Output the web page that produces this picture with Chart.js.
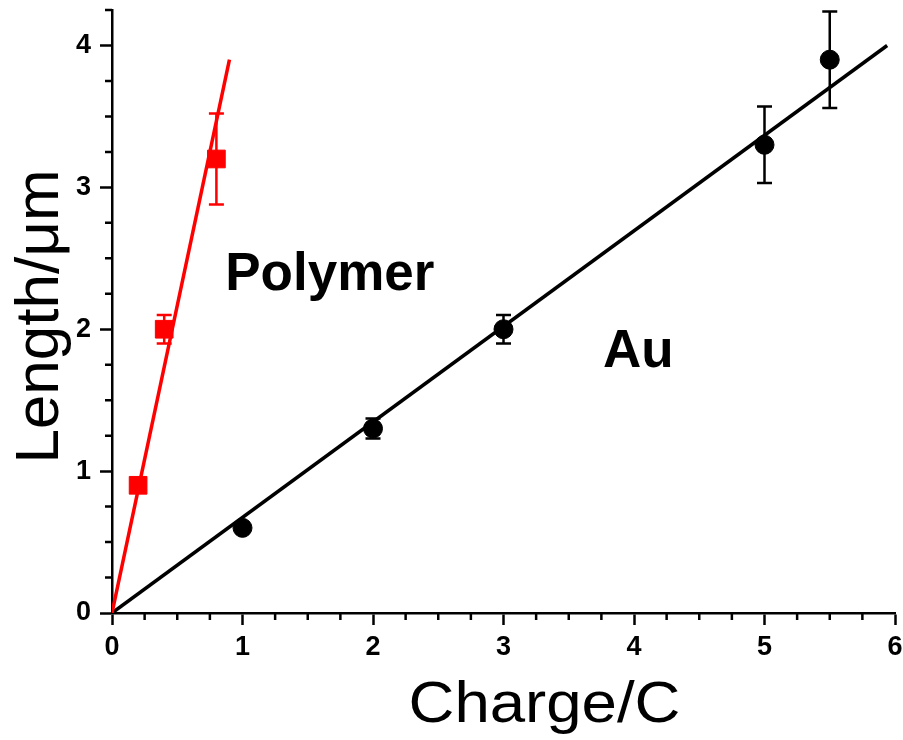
<!DOCTYPE html>
<html lang="en">
<head>
    <meta charset="UTF-8">
    <title>Length vs Charge</title>
    <script src="https://cdn.jsdelivr.net/npm/chart.js"></script>
    <style>
        body {
            margin: 0;
            background: #fff;
        }
        #chart {
            display: block;
        }
    </style>
</head>
<body>
    <canvas id="chart" width="903" height="740"></canvas>
    <script>
        // measured points (x = charge in C, y = length in um)
        const polymerX = [0.2, 0.4, 0.8];
        const polymerY = [0.9, 2.0, 3.2];
        const polymerErr = [0.05, 0.1, 0.32];

        const auX = [1, 2, 3, 5, 5.5];
        const auY = [0.6, 1.3, 2.0, 3.3, 3.9];
        const auErr = [0.03, 0.07, 0.1, 0.27, 0.34];

        // linear fits through the origin
        const polymerFitX = [0, 0.9];
        const polymerFitY = [0, 3.9];
        const auFitX = [0, 5.94];
        const auFitY = [0, 4.0];

        const xTicks = [0, 1, 2, 3, 4, 5, 6];
        const yTicks = [0, 1, 2, 3, 4];

        const xTitle = 'Charge/C';
        const yTitle = 'Length/\u03bcm';

        // text labels inside the plot, at data coords (left, baseline)
        const noteText = ['Polymer', 'Au'];
        const noteX = [0.868, 3.762];
        const noteY = [2.274, 1.731];

        const RED = '#ff0000';
        const BLACK = '#000000';
        const FONT = '"Liberation Sans", Arial, sans-serif';

        function toPoints(xs, ys) {
            return xs.map((x, i) => ({ x: x, y: ys[i] }));
        }

        // error bars drawn with the chart scales
        const errorBars = {
            id: 'errorBars',
            afterDatasetsDraw(chart) {
                const ctx = chart.ctx;
                const xs = chart.scales.x, ys = chart.scales.y;
                const sets = [
                    [polymerX, polymerY, polymerErr, RED],
                    [auX, auY, auErr, BLACK]
                ];
                ctx.save();
                ctx.lineWidth = 2.5;
                sets.forEach(([px, py, pe, col]) => {
                    ctx.strokeStyle = col;
                    px.forEach((x, i) => {
                        const cx = xs.getPixelForValue(x);
                        const top = ys.getPixelForValue(py[i] + pe[i]);
                        const bot = ys.getPixelForValue(py[i] - pe[i]);
                        ctx.beginPath();
                        ctx.moveTo(cx, top);
                        ctx.lineTo(cx, bot);
                        ctx.moveTo(cx - 7.5, top);
                        ctx.lineTo(cx + 7.5, top);
                        ctx.moveTo(cx - 7.5, bot);
                        ctx.lineTo(cx + 7.5, bot);
                        ctx.stroke();
                    });
                });
                ctx.restore();
            }
        };

        // minor ticks, axis titles and in-plot labels
        const decorations = {
            id: 'decorations',
            afterDraw(chart) {
                const ctx = chart.ctx;
                const xs = chart.scales.x, ys = chart.scales.y;
                const area = chart.chartArea;
                ctx.save();
                ctx.strokeStyle = BLACK;
                ctx.lineWidth = 2.5;
                ctx.beginPath();
                for (let v = 0; v <= 6.001; v += 0.25) {
                    if (Math.abs(v - Math.round(v)) < 1e-6) continue;
                    const px = xs.getPixelForValue(v);
                    ctx.moveTo(px, area.bottom);
                    ctx.lineTo(px, area.bottom + 7);
                }
                for (let v = 0; v <= 4.251; v += 0.25) {
                    if (Math.abs(v - Math.round(v)) < 1e-6) continue;
                    const py = ys.getPixelForValue(v);
                    ctx.moveTo(area.left, py);
                    ctx.lineTo(area.left - 7, py);
                }
                ctx.stroke();

                ctx.fillStyle = BLACK;
                // x title
                ctx.font = '57px ' + FONT;
                ctx.textAlign = 'center';
                ctx.textBaseline = 'alphabetic';
                const w = ctx.measureText(xTitle).width;
                const cx = (area.left + area.right) / 2 + 41;
                ctx.save();
                ctx.translate(cx, area.bottom + 109);
                ctx.scale(272 / w, 1);
                ctx.fillText(xTitle, 0, 0);
                ctx.restore();

                // y title
                ctx.font = '62px ' + FONT;
                ctx.save();
                ctx.translate(area.left - 54, (area.top + area.bottom) / 2 + 5);
                ctx.rotate(-Math.PI / 2);
                ctx.fillText(yTitle, 0, 0);
                ctx.restore();

                // notes
                ctx.font = 'bold 53px ' + FONT;
                ctx.textAlign = 'left';
                noteText.forEach((t, i) => {
                    ctx.fillText(t, xs.getPixelForValue(noteX[i]), ys.getPixelForValue(noteY[i]));
                });
                ctx.restore();
            }
        };

        const ctx = document.getElementById('chart').getContext('2d');
        new Chart(ctx, {
            type: 'scatter',
            data: {
                datasets: [
                    {
                        data: toPoints(polymerFitX, polymerFitY),
                        showLine: true,
                        borderColor: RED,
                        borderWidth: 3.5,
                        pointRadius: 0
                    },
                    {
                        data: toPoints(auFitX, auFitY),
                        showLine: true,
                        borderColor: BLACK,
                        borderWidth: 3.5,
                        pointRadius: 0
                    },
                    {
                        data: toPoints(polymerX, polymerY),
                        pointStyle: 'rect',
                        pointRadius: 12.5,
                        pointBackgroundColor: RED,
                        pointBorderColor: RED,
                        pointBorderWidth: 1
                    },
                    {
                        data: toPoints(auX, auY),
                        pointStyle: 'circle',
                        pointRadius: 9.5,
                        pointBackgroundColor: BLACK,
                        pointBorderColor: BLACK,
                        pointBorderWidth: 1
                    }
                ]
            },
            options: {
                responsive: false,
                animation: false,
                layout: {
                    autoPadding: false,
                    padding: { top: 10, right: 8, left: 0, bottom: 0 }
                },
                plugins: {
                    legend: { display: false },
                    tooltip: { enabled: false }
                },
                scales: {
                    x: {
                        type: 'linear',
                        min: 0,
                        max: 6,
                        afterFit: function(scale) {
                            scale.height = 127;
                            scale.paddingLeft = 0;
                            scale.paddingRight = 0;
                        },
                        afterBuildTicks: function(scale) {
                            scale.ticks = xTicks.map(v => ({ value: v }));
                        },
                        ticks: {
                            padding: 6,
                            color: BLACK,
                            font: { family: FONT, size: 27, weight: 'bold' }
                        },
                        grid: {
                            drawOnChartArea: false,
                            tickLength: 12,
                            tickWidth: 2.5,
                            tickColor: BLACK
                        },
                        border: { color: BLACK, width: 2.5 }
                    },
                    y: {
                        type: 'linear',
                        min: 0,
                        max: 4.25,
                        afterFit: function(scale) {
                            scale.width = 112;
                            scale.paddingTop = 0;
                            scale.paddingBottom = 0;
                        },
                        afterBuildTicks: function(scale) {
                            scale.ticks = yTicks.map(v => ({ value: v }));
                        },
                        ticks: {
                            padding: 9,
                            color: BLACK,
                            font: { family: FONT, size: 27, weight: 'bold' }
                        },
                        grid: {
                            drawOnChartArea: false,
                            tickLength: 12,
                            tickWidth: 2.5,
                            tickColor: BLACK
                        },
                        border: { color: BLACK, width: 2.5 }
                    }
                }
            },
            plugins: [errorBars, decorations]
        });
    </script>
</body>
</html>
